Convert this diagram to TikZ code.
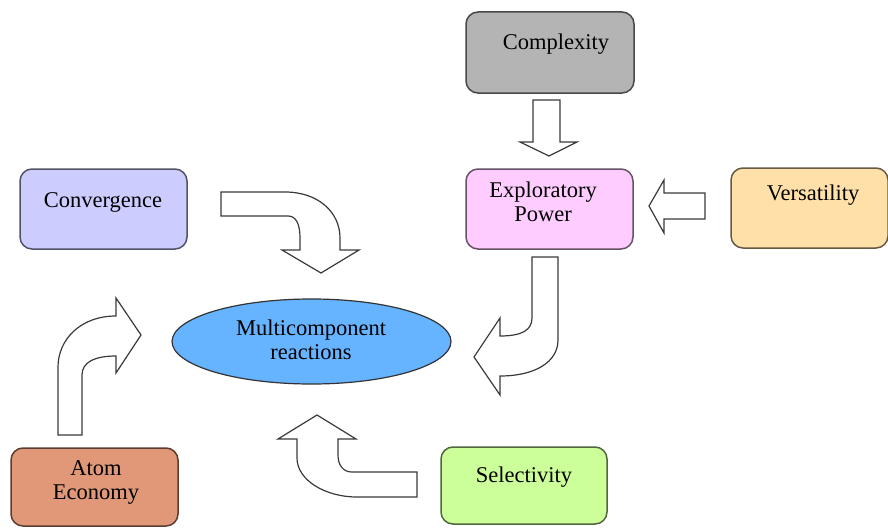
\documentclass[tikz,border=0pt]{standalone}
\usepackage{fontspec}
\setmainfont{Liberation Serif}
\usetikzlibrary{shapes.geometric}
\definecolor{cgray}{HTML}{B4B4B4}
\definecolor{cpink}{HTML}{FFCCFF}
\definecolor{corange}{HTML}{FFE0A8}
\definecolor{clav}{HTML}{CCCCFF}
\definecolor{catom}{HTML}{E09878}
\definecolor{cgreen}{HTML}{CCFF99}
\definecolor{cblue}{HTML}{66B3FF}
\definecolor{arrline}{HTML}{3A3A3A}
\tikzset{
  box/.style={draw=#1!40!black, fill=#1, rounded corners=12pt, line width=1.5pt, inner sep=0pt},
  lbl/.style={font=\fontsize{22.5}{24}\selectfont, align=center, inner sep=0pt, text=black},
  blockarrow/.style={draw=arrline, fill=white, line width=1.2pt, line join=miter},
}
\begin{document}
\begin{tikzpicture}[x=1pt,y=-1pt]
\useasboundingbox (0,0) rectangle (888,527);
% boxes
\node[box=cgray, minimum width=168pt, minimum height=81pt] (cplx) at (550,52.5) {};
\node[box=cpink, minimum width=167pt, minimum height=80pt] (expl) at (549.5,209) {};
\node[box=corange, minimum width=157pt, minimum height=80pt] (vers) at (809.5,208) {};
\node[box=clav, minimum width=167pt, minimum height=80pt] (conv) at (103.5,209) {};
\node[box=catom, minimum width=167pt, minimum height=78pt] (atom) at (94.5,487) {};
\node[box=cgreen, minimum width=166pt, minimum height=77pt] (sel) at (524,485.5) {};
\node[ellipse, draw=black!80, fill=cblue, line width=1.2pt, minimum width=279pt, minimum height=85pt, inner sep=0pt] (mcr) at (311.5,341.5) {};
% labels
\node[lbl] (tcplx) at (556,44) {Complexity};
\node[lbl] (texpl) at (543,202) {Exploratory\\Power};
\node[lbl] (tvers) at (813,195) {Versatility};
\node[lbl] (tconv) at (103,202) {Convergence};
\node[lbl] (tatom) at (96,482) {Atom\\Economy};
\node[lbl] (tsel) at (524,477) {Selectivity};
\node[lbl] (tmcr) at (311,340) {Multicomponent\\reactions};
% block arrows
\draw[blockarrow] (533,100) -- (560,100) -- (560,142) -- (577,142) -- (549,156) -- (520,142) -- (533,142) -- cycle;
\draw[blockarrow] (705,193) -- (705,219) -- (664,219) -- (664,233) -- (649,206) -- (664,180) -- (664,193) -- cycle;
\draw[blockarrow] (221,192) -- (285,192) .. controls (318,192) and (340,212) .. (340,238) -- (340,250) -- (359,250) -- (321,273) -- (282,250) -- (300,250) -- (300,238) .. controls (300,224) and (296,216) .. (288,216) -- (221,216) -- cycle;
\draw[blockarrow] (532,257) -- (558,257) -- (558,340) .. controls (558,362) and (535,376) .. (500,376) -- (500,395) -- (474,357) -- (500,318) -- (500,336) .. controls (522,336) and (532,330) .. (532,318) -- cycle;
\draw[blockarrow] (58,435) -- (82,435) -- (82,375) .. controls (82,362) and (95,356) .. (116,356) -- (116,373) -- (141,335) -- (116,298) -- (116,316) .. controls (80,316) and (58,340) .. (58,367) -- cycle;
\draw[blockarrow] (417,472) -- (352,472) .. controls (343,472) and (338,465) .. (338,455) -- (338,439) -- (356,439) -- (317,415) -- (278,439) -- (297,439) -- (297,458) .. controls (297,480) and (325,497) .. (357,497) -- (417,497) -- cycle;
\end{tikzpicture}
\end{document}
